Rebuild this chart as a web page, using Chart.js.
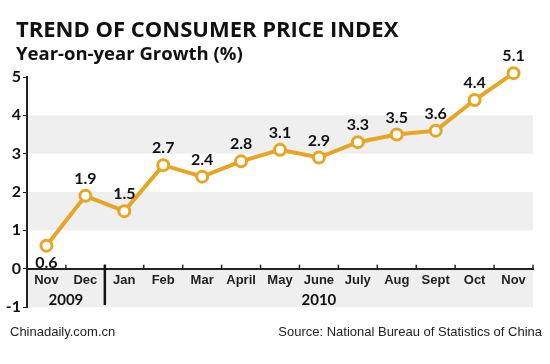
<!DOCTYPE html>
<html>
<head>
<meta charset="utf-8">
<script src="https://cdn.jsdelivr.net/npm/chart.js@4.4.1/dist/chart.umd.min.js"></script>
<style>
    body { margin: 0; background: #fff; }
</style>
</head>
<body>
<canvas id="myChart" width="550" height="364"></canvas>
<script>
const months = ['Nov', 'Dec', 'Jan', 'Feb', 'Mar', 'April', 'May', 'June', 'July', 'Aug', 'Sept', 'Oct', 'Nov'];
const cpiGrowth = [0.6, 1.9, 1.5, 2.7, 2.4, 2.8, 3.1, 2.9, 3.3, 3.5, 3.6, 4.4, 5.1];
const years = ['2009', '2010'];
const yearFirstIndex = [0, 2];
const yearLastIndex = [1, 12];
const yTicks = [-1, 0, 1, 2, 3, 4, 5];

const lineColor = '#e6a524';
const valueFont = 'bold 16px Lato';

// gray bands under everything
const bands = {
    id: 'bands',
    beforeDraw(chart) {
        const ctx = chart.ctx;
        const area = chart.chartArea;
        const y = chart.scales.y;
        ctx.save();
        ctx.fillStyle = '#efefef';
        [[1, 2], [3, 4], [-1, 0]].forEach(b => {
            const top = y.getPixelForValue(b[1]);
            const bottom = y.getPixelForValue(b[0]);
            ctx.fillRect(area.left, top, area.right - area.left, bottom - top);
        });
        ctx.restore();
    }
};

// value labels, year row and texts
const decorations = {
    id: 'decorations',
    afterDatasetsDraw(chart) {
        const ctx = chart.ctx;
        const x = chart.scales.x;
        const y = chart.scales.y;
        const zero = y.getPixelForValue(0);
        const step = x.getPixelForValue(1) - x.getPixelForValue(0);
        ctx.save();

        // small ticks above the zero line
        ctx.strokeStyle = '#222';
        ctx.lineWidth = 1.5;
        for (let i = 0; i <= months.length; i++) {
            const px = x.getPixelForValue(0) - step / 2 + i * step;
            ctx.beginPath();
            ctx.moveTo(px, zero - 4);
            ctx.lineTo(px, zero);
            ctx.stroke();
        }

        // separator between years
        const sep = (x.getPixelForValue(yearLastIndex[0]) + x.getPixelForValue(yearFirstIndex[1])) / 2;
        ctx.lineWidth = 2.5;
        ctx.strokeStyle = '#111';
        ctx.beginPath();
        ctx.moveTo(sep, zero - 4);
        ctx.lineTo(sep, y.getPixelForValue(-1) - 2);
        ctx.stroke();

        // year labels
        ctx.fillStyle = '#111';
        ctx.font = 'bold 15px Lato';
        ctx.textAlign = 'center';
        ctx.textBaseline = 'middle';
        years.forEach((yr, i) => {
            const cx = (x.getPixelForValue(yearFirstIndex[i]) + x.getPixelForValue(yearLastIndex[i])) / 2;
            ctx.fillText(yr, cx, 300);
        });

        // value labels
        ctx.font = valueFont;
        ctx.textBaseline = 'alphabetic';
        const meta = chart.getDatasetMeta(0);
        meta.data.forEach((pt, i) => {
            const v = cpiGrowth[i];
            const ty = i === 0 ? pt.y + 22 : pt.y - 12;
            ctx.fillText(v.toFixed(1), pt.x, ty);
        });

        // title, subtitle and footer
        ctx.textAlign = 'left';
        ctx.font = 'bold 22px "Open Sans"';
        ctx.fillText('TREND OF CONSUMER PRICE INDEX', 16, 37);
        ctx.font = 'bold 18.5px "Open Sans"';
        ctx.fillText('Year-on-year Growth (%)', 16, 59.5);
        ctx.font = '13px "Liberation Sans"';
        ctx.fillStyle = '#222';
        ctx.fillText('Chinadaily.com.cn', 10, 336);
        ctx.textAlign = 'right';
        ctx.fillText('Source: National Bureau of Statistics of China', 542, 336);
        ctx.restore();
    }
};

const data = {
    labels: months,
    datasets: [{
        label: 'CPI',
        data: cpiGrowth,
        borderColor: lineColor,
        borderWidth: 4,
        pointBackgroundColor: '#fff',
        pointBorderColor: lineColor,
        pointBorderWidth: 3,
        pointRadius: 5.5,
        tension: 0,
        clip: false
    }]
};

const config = {
    type: 'line',
    data: data,
    options: {
        responsive: false,
        animation: false,
        layout: {
            padding: { top: 77, bottom: 57, left: 0, right: 17 }
        },
        plugins: {
            legend: { display: false },
            tooltip: { enabled: false }
        },
        scales: {
            x: {
                type: 'category',
                offset: true,
                position: { y: 0 },
                grid: { display: false, tickLength: 0 },
                border: { display: true, color: '#222', width: 2 },
                ticks: {
                    color: '#222',
                    padding: 4,
                    maxRotation: 0,
                    autoSkip: false,
                    font: { family: '"Liberation Sans"', weight: 'bold', size: 13 }
                }
            },
            y: {
                min: -1,
                max: 5,
                afterFit: s => { s.width = 27; },
                afterBuildTicks: s => { s.ticks = yTicks.map(v => ({ value: v })); },
                grid: { drawOnChartArea: false, color: '#222', tickLength: 4 },
                border: { display: true, color: '#222', width: 2 },
                ticks: {
                    color: '#111',
                    padding: 2,
                    font: { family: 'Lato', weight: 'bold', size: 16 }
                }
            }
        }
    },
    plugins: [bands, decorations]
};

const myChart = new Chart(document.getElementById('myChart'), config);
</script>
</body>
</html>
